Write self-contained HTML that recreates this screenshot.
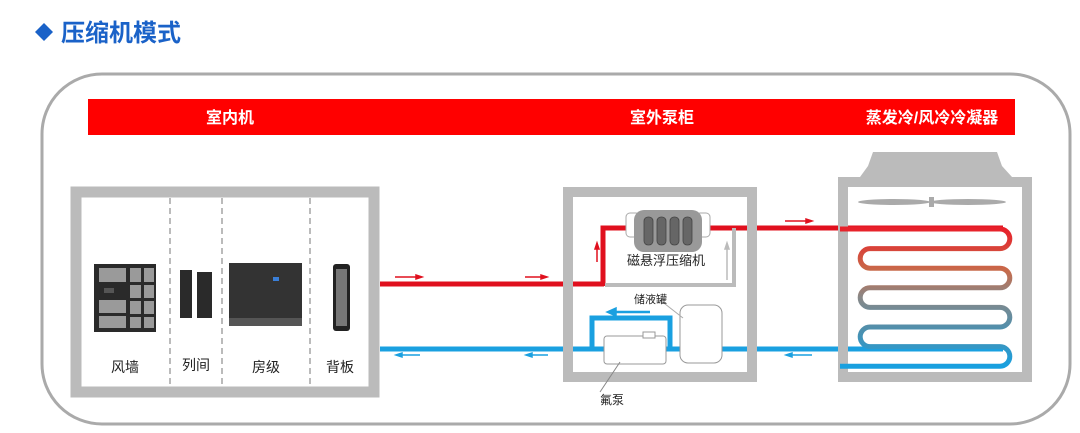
<!DOCTYPE html>
<html><head><meta charset="utf-8"><style>
body{margin:0;background:#fff;}
svg{display:block;font-family:"Liberation Sans","Noto Sans CJK SC",sans-serif;}
</style></head><body>
<svg width="1080" height="433" viewBox="0 0 1080 433" xmlns="http://www.w3.org/2000/svg">
<defs>
<linearGradient id="coil" x1="0" y1="0" x2="0" y2="1">
<stop offset="0" stop-color="#e8202a"/><stop offset="0.3" stop-color="#c86a4a"/>
<stop offset="0.5" stop-color="#888"/><stop offset="0.75" stop-color="#4a90b0"/><stop offset="1" stop-color="#18a0e0"/>
</linearGradient>
</defs>
<!-- title -->
<polygon points="44,23 53,32 44,41 35,32" fill="#1a62c8"/>
<text x="61" y="41" font-size="24" font-weight="bold" fill="#1a62c8">压缩机模式</text>
<!-- outer -->
<rect x="42" y="74" width="1028" height="350" rx="60" fill="none" stroke="#aaa" stroke-width="3"/>
<!-- red bar -->
<rect x="88" y="99" width="927" height="36" fill="#ff0000"/>
<g fill="#fff" font-size="16" font-weight="bold" text-anchor="middle">
<text x="230" y="123">室内机</text><text x="662" y="123">室外泵柜</text><text x="932" y="123">蒸发冷/风冷冷凝器</text></g>
<!-- pipes -->
<line x1="380" y1="284" x2="604" y2="284" stroke="#e0101e" stroke-width="5"/>
<polyline points="603,286 603,228 630,228" fill="none" stroke="#e0101e" stroke-width="5"/>
<line x1="706" y1="228" x2="1003" y2="228" stroke="#e0101e" stroke-width="5"/>
<polyline points="605,285 734,285 734,228" fill="none" stroke="#bbb" stroke-width="4"/>
<line x1="380" y1="349" x2="1003" y2="349" stroke="#1aa0e0" stroke-width="5"/>
<polyline points="592,349 592,318 670,318 670,349" fill="none" stroke="#1aa0e0" stroke-width="5"/>
<!-- indoor box -->
<rect x="76" y="192" width="298" height="200" fill="none" stroke="#bbb" stroke-width="11"/>
<g stroke="#bbb" stroke-width="2" stroke-dasharray="6,4">
<line x1="170" y1="198" x2="170" y2="390"/><line x1="222" y1="198" x2="222" y2="390"/><line x1="310" y1="198" x2="310" y2="390"/></g>
<rect x="94" y="264" width="62" height="68" fill="#2a2a2a"/>
<g fill="#9a9a9a"><rect x="99" y="268" width="27" height="14"/><rect x="130" y="268" width="11" height="14"/><rect x="144" y="268" width="10" height="14"/>
<rect x="99" y="300" width="27" height="13"/><rect x="130" y="285" width="11" height="13"/><rect x="144" y="285" width="10" height="13"/>
<rect x="130" y="301" width="11" height="13"/><rect x="144" y="301" width="10" height="13"/><rect x="99" y="316" width="27" height="12"/><rect x="130" y="317" width="11" height="11"/><rect x="144" y="317" width="10" height="11"/></g>
<rect x="104" y="288" width="10" height="5" fill="#555"/>
<rect x="180" y="270" width="12" height="48" fill="#2a2a2a"/><rect x="197" y="272" width="15" height="46" fill="#2a2a2a"/>
<rect x="229" y="263" width="73" height="63" fill="#333"/><rect x="229" y="318" width="73" height="8" fill="#555"/><rect x="273" y="277" width="6" height="4" fill="#3a7fd8"/>
<rect x="333" y="264" width="17" height="67" rx="3" fill="#222"/><rect x="336" y="269" width="11" height="57" fill="#777"/>
<g font-size="14" fill="#222" text-anchor="middle"><text x="125" y="372">风墙</text><text x="196" y="370">列间</text><text x="266" y="372">房级</text><text x="340" y="372">背板</text></g>
<!-- pump cabinet -->
<rect x="568" y="192" width="184" height="185" fill="none" stroke="#bbb" stroke-width="10"/>
<rect x="626" y="213" width="14" height="24" rx="4" fill="#fff" stroke="#aaa"/>
<rect x="696" y="213" width="14" height="24" rx="4" fill="#fff" stroke="#aaa"/>
<rect x="634" y="210" width="68" height="42" rx="10" fill="#999"/>
<g fill="#666" stroke="#444" stroke-width="0.8"><rect x="644" y="217" width="9" height="28" rx="4"/><rect x="657" y="217" width="9" height="28" rx="4"/><rect x="670" y="217" width="9" height="28" rx="4"/><rect x="683" y="217" width="9" height="28" rx="4"/></g>
<text x="666" y="265" font-size="13" fill="#222" text-anchor="middle">磁悬浮压缩机</text>
<rect x="680" y="305" width="42" height="58" rx="8" fill="#fff" stroke="#999"/>
<rect x="604" y="336" width="62" height="28" rx="3" fill="#fff" stroke="#999"/>
<rect x="643" y="332" width="12" height="6" fill="#fff" stroke="#999"/>
<line x1="620" y1="362" x2="600" y2="392" stroke="#888"/>
<line x1="660" y1="300" x2="683" y2="318" stroke="#aaa"/>
<text x="634" y="303" font-size="11" fill="#222">储液罐</text>
<text x="600" y="404" font-size="12" fill="#222">氟泵</text>
<!-- condenser -->
<polygon points="873,152 997,152 1002,166 1012,177 860,177 868,166" fill="#bbb"/>
<rect x="843" y="182" width="184" height="195" fill="none" stroke="#bbb" stroke-width="10"/>
<ellipse cx="894" cy="202" rx="36" ry="3" fill="#aaa"/><ellipse cx="968" cy="202" rx="38" ry="3" fill="#aaa"/><rect x="929" y="197" width="5" height="10" fill="#aaa"/>
<path d="M840,229 H1000 a9.8,9.8 0 0 1 0,19.6 H870 a9.8,9.8 0 0 0 0,19.6 H1000 a9.8,9.8 0 0 1 0,19.6 H870 a9.8,9.8 0 0 0 0,19.6 H1000 a9.8,9.8 0 0 1 0,19.6 H870 a9.8,9.8 0 0 0 0,19.6 H1000 a9.8,9.8 0 0 1 0,19.6 H840" fill="none" stroke="url(#coil)" stroke-width="5"/>
<!-- arrows -->
<g stroke="#e0101e" stroke-width="1.5" fill="#e0101e">
<line x1="395" y1="277" x2="420" y2="277"/><polygon points="422,277 416,275 416,279"/>
<line x1="525" y1="277" x2="545" y2="277"/><polygon points="547,277 541,275 541,279"/>
<line x1="785" y1="221" x2="810" y2="221"/><polygon points="812,221 806,219 806,223"/>
<line x1="597" y1="262" x2="597" y2="245"/><polygon points="597,243 595,249 599,249"/></g>
<g stroke="#bbb" stroke-width="1.5" fill="#bbb"><line x1="727" y1="280" x2="727" y2="245"/><polygon points="727,243 725,249 729,249"/></g>
<g stroke="#1aa0e0" stroke-width="1.5" fill="#1aa0e0">
<line x1="400" y1="355" x2="420" y2="355"/><polygon points="396,355 402,353 402,357"/>
<line x1="530" y1="355" x2="548" y2="355"/><polygon points="526,355 532,353 532,357"/>
<line x1="790" y1="355" x2="812" y2="355"/><polygon points="786,355 792,353 792,357"/>
<line x1="614" y1="312" x2="650" y2="312" stroke-width="2.5"/><polygon points="607,312 616,308 616,316"/></g>
</svg>
</body></html>
